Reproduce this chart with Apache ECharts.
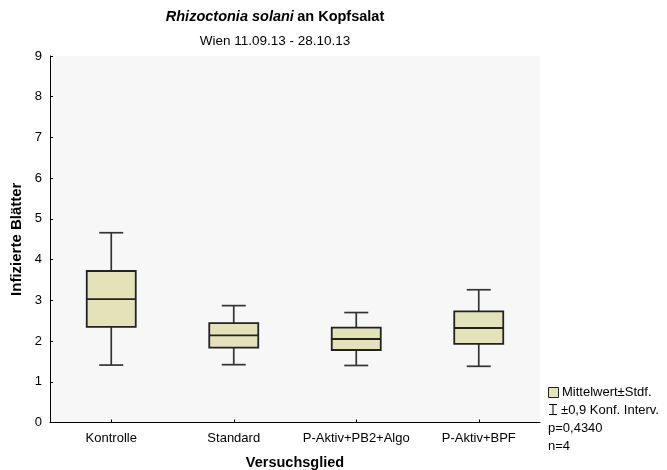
<!DOCTYPE html>
<html>
<head>
<meta charset="utf-8">
<script src="https://cdn.jsdelivr.net/npm/echarts@6/dist/echarts.min.js"></script>
<style>
  html, body { margin: 0; padding: 0; background: #ffffff; }
  #chart { width: 667px; height: 470px; }
</style>
</head>
<body>
<div id="chart"></div>
<script>
// Treatment groups
const categories = ['Kontrolle', 'Standard', 'P-Aktiv+PB2+Algo', 'P-Aktiv+BPF'];
// Mean number of infected leaves per group
const means = [3.03, 2.14, 2.05, 2.32];
// Mean ± standard error
const seLower = [2.35, 1.84, 1.78, 1.93];
const seUpper = [3.72, 2.44, 2.33, 2.73];
// Mean ± 0.9 confidence interval
const ciLower = [1.41, 1.42, 1.40, 1.38];
const ciUpper = [4.66, 2.87, 2.70, 3.26];
const yTicks = [0, 1, 2, 3, 4, 5, 6, 7, 8, 9];

const FONT = '"Liberation Sans", Arial, sans-serif';
const BOX_FILL = '#e3e2b8';
const LINE = '#333333';

const data = categories.map((c, i) => [i, means[i], seLower[i], seUpper[i], ciLower[i], ciUpper[i]]);

function renderBox(params, api) {
  const idx = api.value(0);
  const mean = api.coord([idx, api.value(1)]);
  const seLo = api.coord([idx, api.value(2)]);
  const seHi = api.coord([idx, api.value(3)]);
  const ciLo = api.coord([idx, api.value(4)]);
  const ciHi = api.coord([idx, api.value(5)]);
  const x = mean[0];
  const boxW = 49;
  const capW = 24;
  const lineStyle = { stroke: LINE, lineWidth: 1.7 };
  return {
    type: 'group',
    children: [
      { type: 'line', shape: { x1: x, y1: seHi[1], x2: x, y2: ciHi[1] }, style: lineStyle },
      { type: 'line', shape: { x1: x, y1: seLo[1], x2: x, y2: ciLo[1] }, style: lineStyle },
      { type: 'line', shape: { x1: x - capW / 2, y1: ciHi[1], x2: x + capW / 2, y2: ciHi[1] }, style: lineStyle },
      { type: 'line', shape: { x1: x - capW / 2, y1: ciLo[1], x2: x + capW / 2, y2: ciLo[1] }, style: lineStyle },
      { type: 'rect', shape: { x: x - boxW / 2, y: seHi[1], width: boxW, height: seLo[1] - seHi[1] },
        style: { fill: BOX_FILL, stroke: '#222222', lineWidth: 1.8 } },
      { type: 'line', shape: { x1: x - boxW / 2, y1: mean[1], x2: x + boxW / 2, y2: mean[1] },
        style: { stroke: '#222222', lineWidth: 1.8 } }
    ]
  };
}

const chart = echarts.init(document.getElementById('chart'), null, { renderer: 'canvas' });
chart.setOption({
  backgroundColor: '#ffffff',
  animation: false,
  grid: {
    left: 50, right: 127, top: 56, bottom: 47.5,
    containLabel: false, outerBoundsMode: 'none',
    show: true, backgroundColor: '#f7f7f7', borderWidth: 0
  },
  xAxis: {
    type: 'category',
    data: categories,
    name: 'Versuchsglied',
    nameLocation: 'middle',
    nameGap: 33,
    nameTextStyle: { fontFamily: FONT, fontSize: 14.5, fontWeight: 'bold', color: '#000' },
    axisLine: { lineStyle: { color: '#000', width: 1 } },
    axisTick: { show: true, inside: true, length: 3, alignWithLabel: true, lineStyle: { color: '#000' } },
    axisLabel: { fontFamily: FONT, fontSize: 13, color: '#000', margin: 9, interval: 0 },
    splitLine: { show: false }
  },
  yAxis: {
    type: 'value',
    min: yTicks[0],
    max: yTicks[yTicks.length - 1],
    interval: 1,
    name: 'Infizierte Blätter',
    nameLocation: 'middle',
    nameGap: 24,
    nameTextStyle: { fontFamily: FONT, fontSize: 15, fontWeight: 'bold', color: '#000' },
    axisLine: { show: true, lineStyle: { color: '#000', width: 1 } },
    axisTick: { show: true, inside: true, length: 3, lineStyle: { color: '#000' } },
    axisLabel: { fontFamily: FONT, fontSize: 13, color: '#000', margin: 8 },
    splitLine: { show: false }
  },
  series: [{
    type: 'custom',
    renderItem: renderBox,
    encode: { x: 0, y: [1, 2, 3, 4, 5] },
    data: data,
    z: 10
  }],
  graphic: [
    {
      type: 'text', x: 275, y: 17,
      style: {
        text: '{i|Rhizoctonia solani} {b|an Kopfsalat}',
        align: 'center', verticalAlign: 'middle',
        rich: {
          i: { fontFamily: FONT, fontSize: 14.5, fontWeight: 'bold', fontStyle: 'italic', fill: '#000' },
          b: { fontFamily: FONT, fontSize: 14.5, fontWeight: 'bold', fill: '#000' }
        }
      }
    },
    {
      type: 'text', x: 275, y: 41,
      style: { text: 'Wien 11.09.13 - 28.10.13', align: 'center', verticalAlign: 'middle',
        fontFamily: FONT, fontSize: 13.5, fill: '#000' }
    },
    // Legend
    { type: 'rect', shape: { x: 548.5, y: 387.5, width: 10, height: 10 },
      style: { fill: BOX_FILL, stroke: '#222', lineWidth: 1 } },
    { type: 'text', x: 562, y: 392.5,
      style: { text: 'Mittelwert±Stdf.', verticalAlign: 'middle', fontFamily: FONT, fontSize: 13, fill: '#000' } },
    { type: 'line', shape: { x1: 549, y1: 404.5, x2: 557, y2: 404.5 }, style: { stroke: '#000', lineWidth: 1 } },
    { type: 'line', shape: { x1: 553, y1: 404.5, x2: 553, y2: 414.5 }, style: { stroke: '#000', lineWidth: 1 } },
    { type: 'line', shape: { x1: 549, y1: 414.5, x2: 557, y2: 414.5 }, style: { stroke: '#000', lineWidth: 1 } },
    { type: 'text', x: 561, y: 410,
      style: { text: '±0,9 Konf. Interv.', verticalAlign: 'middle', fontFamily: FONT, fontSize: 13, fill: '#000' } },
    { type: 'text', x: 548, y: 428.5,
      style: { text: 'p=0,4340', verticalAlign: 'middle', fontFamily: FONT, fontSize: 13, fill: '#000' } },
    { type: 'text', x: 548, y: 446.5,
      style: { text: 'n=4', verticalAlign: 'middle', fontFamily: FONT, fontSize: 13, fill: '#000' } }
  ]
});
</script>
</body>
</html>
